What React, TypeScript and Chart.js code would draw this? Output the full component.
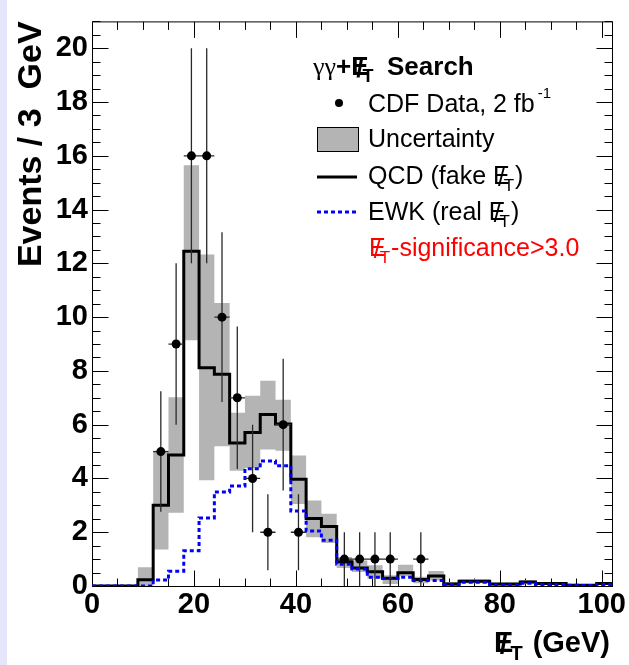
import React, { useEffect, useRef } from 'react';
import { Chart, registerables } from 'chart.js';

Chart.register(...registerables);

// ---- data (3 GeV bins) ----
const binEdges = [0, 3, 6, 9, 12, 15, 18, 21, 24, 27, 30, 33, 36, 39, 42, 45, 48, 51, 54, 57, 60, 63, 66, 69, 72, 75, 78, 81, 84, 87, 90, 93, 96, 99, 102];
const qcdValues = [0, 0, 0, 0.23, 3.0, 4.87, 12.45, 8.12, 7.88, 5.32, 5.71, 6.38, 6.03, 3.97, 2.51, 2.21, 0.9, 0.67, 0.53, 0.29, 0.49, 0.24, 0.37, 0.07, 0.18, 0.18, 0.07, 0.07, 0.15, 0.09, 0.09, 0.03, 0.03, 0.09];
const ewkValues = [0, 0, 0, 0, 0.22, 0.55, 1.31, 2.53, 3.5, 3.72, 4.36, 4.65, 4.47, 2.79, 2.05, 1.7, 0.81, 0.63, 0.33, 0.28, 0.33, 0.2, 0.2, 0.06, 0.14, 0.14, 0.04, 0.04, 0.1, 0.06, 0.06, 0.03, 0.02, 0.06];
const bandLow = [0, 0, 0, 0, 1.36, 2.72, 9.14, 3.93, 5.2, 4.29, 4.39, 5.08, 5.03, 3.05, 1.81, 1.6, 0.67, 0.52, 0.28, 0.07, 0.36, 0.1, 0.2, 0, 0.1, 0.1, 0, 0, 0.08, 0.04, 0.04, 0, 0, 0.04];
const bandHigh = [0, 0, 0, 0.7, 5.03, 7.02, 15.65, 12.33, 10.53, 6.44, 7.08, 7.63, 6.93, 4.85, 3.18, 2.69, 1.08, 0.95, 0.77, 0.4, 0.79, 0.34, 0.56, 0.15, 0.25, 0.25, 0.12, 0.12, 0.22, 0.15, 0.15, 0.07, 0.07, 0.15];
const dataX = [13.5, 16.5, 19.5, 22.5, 25.5, 28.5, 31.5, 34.5, 37.5, 40.5, 49.5, 52.5, 55.5, 58.5, 64.5];
const dataY = [5, 9, 16, 16, 10, 7, 4, 2, 6, 2, 1, 1, 1, 1, 1];
const dataErr = [2.24, 3, 4, 4, 3.16, 2.65, 2, 1.41, 2.45, 1.41, 1, 1, 1, 1, 1];
const dataHalfWidth = 1.5;
const xRange = [0, 102];
const yRange = [0, 21];
const xMajorStep = 20;
const xMinorStep = 5;
const yMajorStep = 2;
const yMinorStep = 0.5;

const SANS = '"Liberation Sans", Arial, Helvetica, sans-serif';
const B = (s: number) => `bold ${s}px ${SANS}`;
const R = (s: number) => `${s}px ${SANS}`;
const GRAY = '#b4b4b4';
const POINTS_INDEX = 4;

type Seg = { t: string; f: string; dx?: number; dy?: number; over?: boolean };

function segWidth(ctx: CanvasRenderingContext2D, segs: Seg[]) {
  let cx = 0;
  for (const s of segs) {
    if (s.over) continue;
    ctx.font = s.f;
    cx += (s.dx || 0) + ctx.measureText(s.t).width;
  }
  return cx;
}

function drawRich(ctx: CanvasRenderingContext2D, x: number, y: number, segs: Seg[]) {
  let cx = x;
  let prevX = x;
  let prevW = 0;
  ctx.textAlign = 'left';
  ctx.textBaseline = 'alphabetic';
  for (const s of segs) {
    ctx.font = s.f;
    const w = ctx.measureText(s.t).width;
    if (s.over) {
      ctx.fillText(s.t, prevX + (prevW - w) / 2 + (s.dx || 0), y + (s.dy || 0));
      continue;
    }
    cx += s.dx || 0;
    ctx.fillText(s.t, cx, y + (s.dy || 0));
    prevX = cx;
    prevW = w;
    cx += w;
  }
  return cx;
}

function stepPoints(edges: number[], vals: number[]) {
  return edges.map((e, i) => ({ x: e, y: vals[Math.min(i, vals.length - 1)] }));
}

const decorPlugin = {
  id: 'decor',
  beforeDatasetsDraw(chart: any) {
    const { ctx, chartArea: a, scales } = chart;
    const xs = scales.x;
    const ys = scales.y;
    ctx.save();
    ctx.strokeStyle = '#000';
    ctx.lineWidth = 1;
    ctx.strokeRect(a.left + 0.5, a.top + 0.5, a.right - a.left, a.bottom - a.top);
    ctx.beginPath();
    for (let v = xRange[0]; v <= xRange[1] + 1e-9; v += xMinorStep) {
      const px = Math.round(xs.getPixelForValue(v)) + 0.5;
      const major = Math.abs(v % xMajorStep) < 1e-6;
      const len = major ? 16 : 8;
      ctx.moveTo(px, a.bottom + 0.5);
      ctx.lineTo(px, a.bottom + 0.5 - len);
      ctx.moveTo(px, a.top + 0.5);
      ctx.lineTo(px, a.top + 0.5 + len);
    }
    for (let v = yRange[0]; v <= yRange[1] + 1e-9; v += yMinorStep) {
      const py = Math.round(ys.getPixelForValue(v)) + 0.5;
      const major = Math.abs(v % yMajorStep) < 1e-6;
      const len = major ? 16 : 8;
      ctx.moveTo(a.left + 0.5, py);
      ctx.lineTo(a.left + 0.5 + len, py);
      ctx.moveTo(a.right + 0.5, py);
      ctx.lineTo(a.right + 0.5 - len, py);
    }
    ctx.stroke();
    ctx.restore();
  },
  beforeDatasetDraw(chart: any, args: any) {
    if (args.index !== POINTS_INDEX) return;
    const { ctx, scales } = chart;
    const xs = scales.x;
    const ys = scales.y;
    ctx.save();
    ctx.strokeStyle = '#2a2a2a';
    ctx.lineWidth = 1.3;
    ctx.beginPath();
    dataX.forEach((xv, i) => {
      const px = xs.getPixelForValue(xv);
      const py = ys.getPixelForValue(dataY[i]);
      ctx.moveTo(px, ys.getPixelForValue(dataY[i] + dataErr[i]));
      ctx.lineTo(px, ys.getPixelForValue(Math.max(0, dataY[i] - dataErr[i])));
      ctx.moveTo(xs.getPixelForValue(xv - dataHalfWidth), py);
      ctx.lineTo(xs.getPixelForValue(xv + dataHalfWidth), py);
    });
    ctx.stroke();
    ctx.restore();
  },
  afterDraw(chart: any) {
    const { ctx } = chart;
    ctx.save();
    ctx.fillStyle = '#000';
    // legend title
    drawRich(ctx, 313, 75, [
      { t: 'γγ', f: `26px "Liberation Serif", "DejaVu Serif", serif` },
      { t: '+', f: B(26) },
      { t: 'E', f: B(26) },
      { t: '/', f: B(26), over: true, dy: 2 },
      { t: 'T', f: B(18), dx: -6, dy: 7 },
    ]);
    ctx.font = B(26);
    ctx.fillText('Search', 387, 75);

    // data marker
    ctx.beginPath();
    ctx.arc(339, 103, 4, 0, Math.PI * 2);
    ctx.fill();
    drawRich(ctx, 368, 112, [
      { t: 'CDF Data, 2 fb', f: R(25) },
      { t: '-1', f: R(15), dx: 3, dy: -14 },
    ]);

    // uncertainty box
    ctx.fillStyle = GRAY;
    ctx.fillRect(317, 127, 42, 25);
    ctx.strokeStyle = '#000';
    ctx.lineWidth = 1;
    ctx.strokeRect(317.5, 127.5, 41, 24);
    ctx.fillStyle = '#000';
    drawRich(ctx, 368, 147, [{ t: 'Uncertainty', f: R(25) }]);

    // QCD
    ctx.lineWidth = 3;
    ctx.beginPath();
    ctx.moveTo(317, 177);
    ctx.lineTo(357, 177);
    ctx.stroke();
    drawRich(ctx, 368, 184, [
      { t: 'QCD (fake ', f: R(25) },
      { t: 'E', f: R(25) },
      { t: '/', f: R(25), over: true, dy: 2 },
      { t: 'T', f: R(17), dx: -6, dy: 7 },
      { t: ')', f: R(25), dx: 1 },
    ]);

    // EWK
    ctx.strokeStyle = '#0000ff';
    ctx.setLineDash([4, 3]);
    ctx.beginPath();
    ctx.moveTo(317, 212);
    ctx.lineTo(358, 212);
    ctx.stroke();
    ctx.setLineDash([]);
    drawRich(ctx, 368, 220, [
      { t: 'EWK (real ', f: R(25) },
      { t: 'E', f: R(25) },
      { t: '/', f: R(25), over: true, dy: 2 },
      { t: 'T', f: R(17), dx: -6, dy: 7 },
      { t: ')', f: R(25), dx: 1 },
    ]);

    // cut label
    ctx.fillStyle = '#ff0000';
    drawRich(ctx, 369, 256, [
      { t: 'E', f: R(25) },
      { t: '/', f: R(25), over: true, dy: 2 },
      { t: 'T', f: R(17), dx: -6, dy: 7 },
      { t: '-significance>3.0', f: R(25), dx: 1 },
    ]);

    // x axis title
    ctx.fillStyle = '#000';
    const xt: Seg[] = [
      { t: 'E', f: B(29) },
      { t: '/', f: B(29), over: true, dy: 2 },
      { t: 'T', f: B(20), dx: -3, dy: 8 },
      { t: ' (GeV)', f: B(29), dx: 2 },
    ];
    const w = segWidth(ctx, xt);
    drawRich(ctx, 610 - w, 652, xt);
    ctx.restore();
  },
};

export default function App() {
  const ref = useRef<HTMLCanvasElement | null>(null);
  useEffect(() => {
    if (!ref.current) return;
    const chart = new Chart(ref.current, {
      type: 'line',
      data: {
        datasets: [
          {
            label: 'band-high',
            data: stepPoints(binEdges, bandHigh),
            stepped: 'before',
            borderColor: 'rgba(0,0,0,0)',
            borderWidth: 0,
            pointRadius: 0,
            fill: false,
            order: 10,
          },
          {
            label: 'Uncertainty',
            data: stepPoints(binEdges, bandLow),
            stepped: 'before',
            borderColor: 'rgba(0,0,0,0)',
            borderWidth: 0,
            pointRadius: 0,
            backgroundColor: GRAY,
            fill: '-1',
            order: 9,
          },
          {
            label: 'QCD',
            data: stepPoints(binEdges, qcdValues),
            stepped: 'before',
            borderColor: '#000',
            borderWidth: 3,
            pointRadius: 0,
            fill: false,
            order: 3,
          },
          {
            label: 'EWK',
            data: stepPoints(binEdges, ewkValues),
            stepped: 'before',
            borderColor: '#0000ff',
            borderWidth: 3,
            borderDash: [4, 3],
            borderCapStyle: 'butt',
            pointRadius: 0,
            fill: false,
            order: 2,
          },
          {
            label: 'CDF Data',
            data: dataX.map((x, i) => ({ x, y: dataY[i] })),
            showLine: false,
            pointRadius: 4.5,
            pointBackgroundColor: '#000',
            pointBorderWidth: 0,
            borderColor: '#000',
            fill: false,
            order: 1,
          },
        ],
      } as any,
      options: {
        animation: false,
        responsive: false,
        maintainAspectRatio: false,
        events: [],
        layout: { padding: { left: 0, right: 17, top: 10, bottom: 0 } },
        plugins: { legend: { display: false }, tooltip: { enabled: false } },
        scales: {
          x: {
            type: 'linear',
            min: xRange[0],
            max: xRange[1],
            grid: { display: false, drawTicks: false },
            border: { display: false },
            ticks: {
              stepSize: xMajorStep,
              includeBounds: false,
              autoSkip: false,
              maxRotation: 0,
              padding: 2,
              color: '#000',
              font: { family: SANS, size: 29, weight: 'bold' },
            },
            afterFit: (s: any) => {
              s.height = 79;
            },
          },
          y: {
            type: 'linear',
            min: yRange[0],
            max: yRange[1],
            grid: { display: false, drawTicks: false },
            border: { display: false },
            ticks: {
              stepSize: yMajorStep,
              includeBounds: false,
              autoSkip: false,
              padding: 4,
              color: '#000',
              font: { family: SANS, size: 29, weight: 'bold' },
            },
            title: {
              display: true,
              text: 'Events / 3  GeV',
              align: 'end',
              color: '#000',
              padding: { top: 11, bottom: 0 },
              font: { family: SANS, size: 34, weight: 'bold' },
            },
            afterFit: (s: any) => {
              s.width = 92;
            },
          },
        },
      } as any,
      plugins: [decorPlugin as any],
    });
    return () => chart.destroy();
  }, []);

  return (
    <div style={{ position: 'fixed', left: 0, top: 0, width: 629, height: 665, background: '#fff', overflow: 'hidden' }}>
      <div style={{ position: 'absolute', left: 0, top: 0, width: 7, height: 665, background: '#e6e6fa' }} />
      <canvas ref={ref} width={629} height={665} style={{ position: 'absolute', left: 0, top: 0, width: 629, height: 665 }} />
    </div>
  );
}
